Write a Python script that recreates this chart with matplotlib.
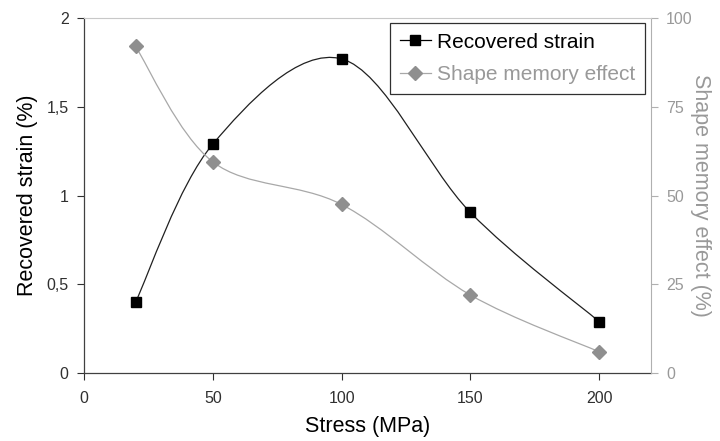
import matplotlib
matplotlib.use("Agg")
import matplotlib.pyplot as plt
import numpy as np
from matplotlib.path import Path
from matplotlib.patches import PathPatch
from matplotlib.lines import Line2D
from matplotlib.ticker import FuncFormatter

plt.rcParams['font.family'] = ['Liberation Sans', 'DejaVu Sans']

stress = [20, 50, 100, 150, 200]
recovered_strain = [0.40, 1.29, 1.77, 0.905, 0.29]
shape_memory_effect = [92, 59.5, 47.5, 22, 6]

GRAY = '#8f8f8f'
GRAY_LINE = '#a8a8a8'
GRAY_TEXT = '#999999'


def smooth_path(x, y):
    # Excel-style smoothed line: cubic Bezier segments through the points
    x = np.asarray(x, float)
    y = np.asarray(y, float)
    pts = np.column_stack([x, y])
    n = len(pts)
    verts = [pts[0]]
    codes = [Path.MOVETO]
    for i in range(n - 1):
        p0 = pts[i - 1] if i > 0 else pts[i]
        p1 = pts[i]
        p2 = pts[i + 1]
        p3 = pts[i + 2] if i + 2 < n else pts[i + 1]
        c1 = p1 + (p2 - p0) / 6.0
        c2 = p2 - (p3 - p1) / 6.0
        verts += [c1, c2, p2]
        codes += [Path.CURVE4] * 3
    return Path(verts, codes)


fig = plt.figure(figsize=(7.2, 4.41), dpi=100)
ax = fig.add_axes([0.1167, 0.154, 0.787, 0.805])
ax2 = ax.twinx()

ax.add_patch(PathPatch(smooth_path(stress, recovered_strain), fill=False,
                       edgecolor='#202020', lw=0.9, zorder=3))
ax.plot(stress, recovered_strain, ls='none', marker='s', ms=6.5,
        color='black', zorder=4)

ax2.add_patch(PathPatch(smooth_path(stress, shape_memory_effect), fill=False,
                        edgecolor=GRAY_LINE, lw=0.9, zorder=3))
ax2.plot(stress, shape_memory_effect, ls='none', marker='D', ms=7,
         color=GRAY, zorder=4)

ax.set_xlim(0, 220)
ax.set_ylim(0, 2)
ax2.set_ylim(0, 100)
ax.set_xticks([0, 50, 100, 150, 200])
ax.set_yticks([0, 0.5, 1, 1.5, 2])
ax2.set_yticks([0, 25, 50, 75, 100])
ax.yaxis.set_major_formatter(FuncFormatter(lambda v, p: ('%g' % v).replace('.', ',')))

ax.tick_params(axis='both', labelsize=11.5, colors='#303030', length=5, width=0.8)
ax.tick_params(axis='x', pad=8)
ax.tick_params(axis='y', pad=6)
ax2.tick_params(axis='y', labelsize=11.5, colors='#b0b0b0', labelcolor=GRAY_TEXT,
                length=5, width=0.8, pad=6)

for s in ['left', 'bottom']:
    ax.spines[s].set_color('#404040')
    ax.spines[s].set_linewidth(0.9)
ax2.spines['left'].set_visible(False)
ax2.spines['bottom'].set_visible(False)
ax2.spines['right'].set_color('#b0b0b0')
ax2.spines['top'].set_color('#c8c8c8')
ax.spines['top'].set_visible(False)
ax.spines['right'].set_visible(False)

ax.set_xlabel('Stress (MPa)', fontsize=15.5, color='black', labelpad=7)
ax.set_ylabel('Recovered strain (%)', fontsize=15.5, color='black', labelpad=6)
ax2.set_ylabel('Shape memory effect (%)', fontsize=15.5, color=GRAY_TEXT,
               rotation=270, labelpad=13)

handles = [
    Line2D([], [], color='black', lw=0.9, marker='s', ms=6.5),
    Line2D([], [], color=GRAY_LINE, lw=0.9, marker='D', ms=7, mfc=GRAY, mec=GRAY),
]
leg = ax2.legend(handles, ['Recovered strain', 'Shape memory effect'],
                 loc='upper right', bbox_to_anchor=(0.99, 0.985), fontsize=15,
                 frameon=True, fancybox=False, framealpha=1, edgecolor='#303030',
                 handlelength=1.5, handletextpad=0.3, borderpad=0.45,
                 labelspacing=0.65, borderaxespad=0)
leg.get_frame().set_linewidth(0.9)
leg.get_texts()[1].set_color(GRAY_TEXT)

fig.savefig('out.png', dpi=100)
